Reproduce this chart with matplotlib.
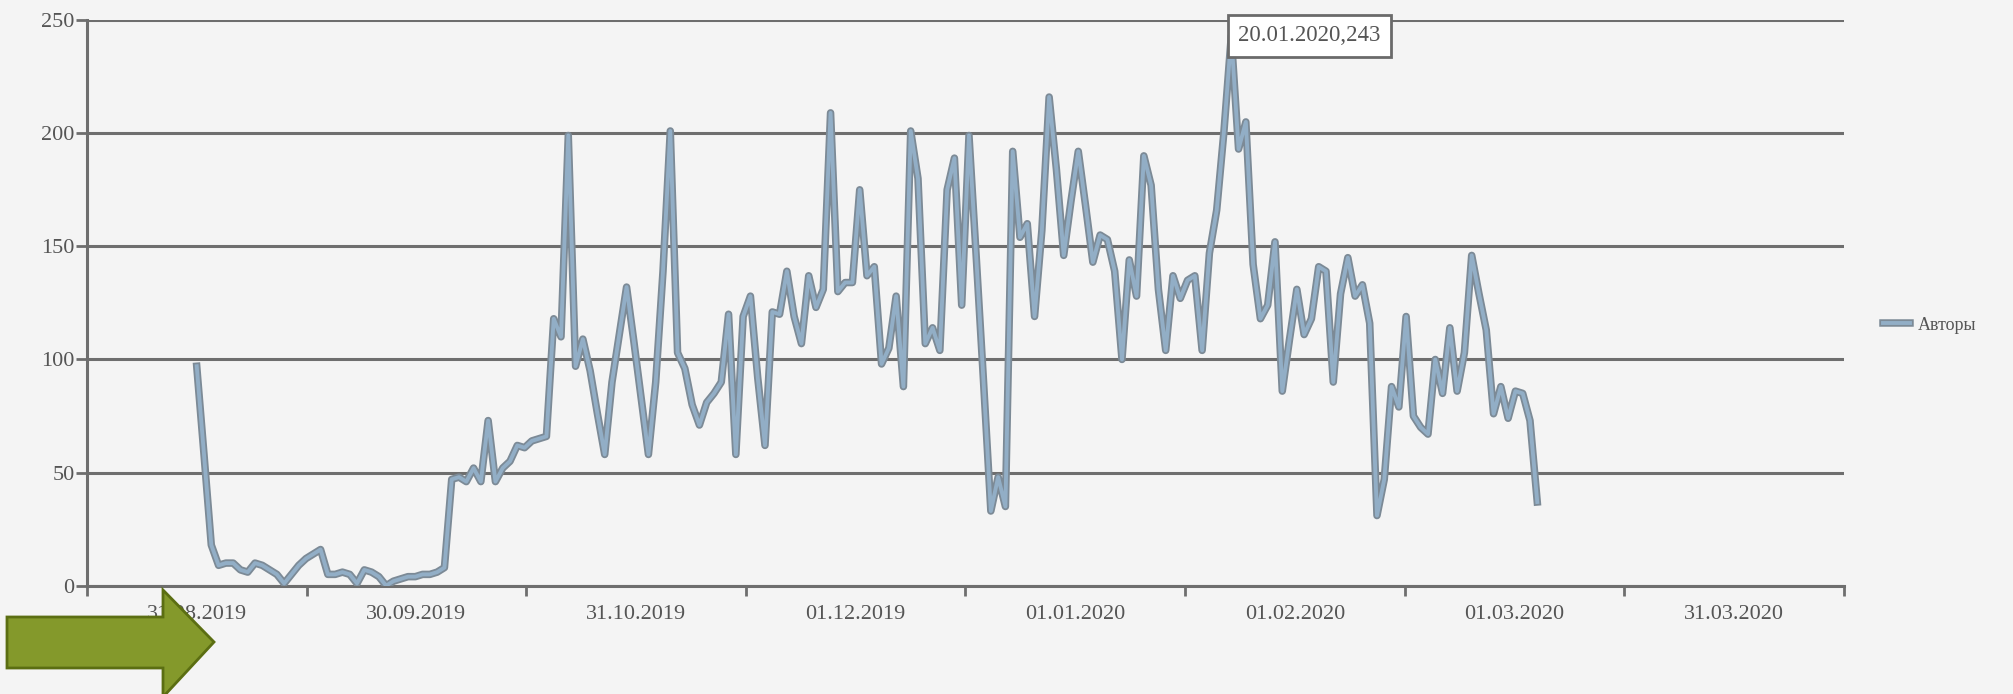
import numpy as np
import pandas as pd
import matplotlib
matplotlib.use("Agg")
import matplotlib.pyplot as plt
import matplotlib.patheffects as pe
from matplotlib.patches import Polygon

# daily "Авторы" counts starting 31.08.2019
authors = [
    97, 58, 18, 9, 10, 10, 7, 6, 10, 9,
    7, 5, 1, 5, 9, 12, 14, 16, 5, 5,
    6, 5, 1, 7, 6, 4, 0, 2, 3, 4,
    4, 5, 5, 6, 8, 47, 48, 46, 52, 46,
    73, 46, 52, 55, 62, 61, 64, 65, 66, 118,
    110, 199, 97, 109, 95, 76, 58, 90, 111, 132,
    108, 83, 58, 90, 139, 201, 103, 96, 80, 71,
    81, 85, 90, 120, 58, 119, 128, 92, 62, 121,
    120, 139, 119, 107, 137, 123, 131, 209, 130, 134,
    134, 175, 137, 141, 98, 105, 128, 88, 201, 180,
    107, 114, 104, 175, 189, 124, 199, 145, 90, 33,
    48, 35, 192, 154, 160, 119, 157, 216, 184, 146,
    170, 192, 168, 143, 155, 153, 139, 100, 144, 128,
    190, 177, 131, 104, 137, 127, 135, 137, 104, 147,
    166, 201, 243, 193, 205, 142, 118, 124, 152, 86,
    109, 131, 111, 118, 141, 139, 90, 129, 145, 128,
    133, 116, 31, 47, 88, 79, 119, 75, 70, 67,
    100, 85, 114, 86, 103, 146, 129, 113, 76, 88,
    74, 86, 85, 73, 37,
]
dates = pd.date_range("2019-08-31", periods=len(authors), freq="D")
x_labels = ["31.08.2019", "30.09.2019", "31.10.2019", "01.12.2019",
            "01.01.2020", "01.02.2020", "01.03.2020", "31.03.2020"]
y_ticks = [0, 50, 100, 150, 200, 250]

bg = "#f4f4f4"
grid_col = "#6e6e6e"
text_col = "#555555"
font = ["Liberation Serif", "DejaVu Serif"]

fig = plt.figure(figsize=(20.13, 6.94), dpi=100, facecolor=bg)
ax = fig.add_axes([0.04322, 0.15605, 0.87282, 0.81499])
ax.set_facecolor(bg)

x = np.arange(len(authors))
ax.plot(x, authors, color="#92aec6", lw=2.8, solid_joinstyle="round",
        label="Авторы", zorder=3,
        path_effects=[pe.Stroke(linewidth=5.4, foreground="#7c8a96"), pe.Normal()])

# axis: 8 equal intervals, label in the middle of each
x_min, x_max = -15.06, 226.1
bounds = np.linspace(x_min, x_max, len(x_labels) + 1)
centers = (bounds[:-1] + bounds[1:]) / 2
ax.set_xlim(x_min, x_max)
ax.set_xticks(centers)
ax.set_xticklabels(x_labels)
ax.set_xticks(bounds, minor=True)
ax.tick_params(axis="x", which="major", length=0, pad=14, labelsize=16,
               labelcolor=text_col)
ax.tick_params(axis="x", which="minor", length=7.5, width=2, color=grid_col,
               direction="out")

ax.set_ylim(0, 250)
ax.set_yticks(y_ticks)
ax.tick_params(axis="y", length=8, width=2, color=grid_col, pad=1,
               labelsize=16, labelcolor=text_col)
for lab in ax.get_xticklabels() + ax.get_yticklabels():
    lab.set_family(font)

ax.grid(axis="y", color=grid_col, lw=2.2, zorder=1)
ax.set_axisbelow(True)
for s in ["top", "right"]:
    ax.spines[s].set_visible(False)
for s in ["left", "bottom"]:
    ax.spines[s].set_color(grid_col)
    ax.spines[s].set_linewidth(2.2)

# peak label
i_max = int(np.argmax(authors))
ax.annotate(f"{dates[i_max].strftime('%d.%m.%Y')},{authors[i_max]}",
            xy=(x[i_max], authors[i_max]), xytext=(x[i_max] + 0.9, authors[i_max]),
            ha="left", va="center", fontsize=16.5, color=text_col, family=font,
            bbox=dict(boxstyle="square,pad=0.45", fc="white", ec="#6a6a6a", lw=2),
            zorder=5, annotation_clip=False)

leg = ax.legend(loc="center left", bbox_to_anchor=(1874 / 2013, 1 - 325 / 694),
                bbox_transform=fig.transFigure, frameon=False, handlelength=1.5,
                handletextpad=0.4, borderpad=0, prop={"family": font, "size": 13})
for t in leg.get_texts():
    t.set_color(text_col)

# green arrow in the lower left corner
W, H = 2013, 694
pts = [(7, 617), (163, 617), (163, 590), (214, 642), (163, 697), (163, 668), (7, 668)]
arrow = Polygon([(px / W, 1 - py / H) for px, py in pts], closed=True,
                transform=fig.transFigure, fc="#84992b", ec="#5b6e12", lw=2,
                zorder=10)
fig.patches.append(arrow)

fig.savefig("out.png", dpi=100, facecolor=bg)
